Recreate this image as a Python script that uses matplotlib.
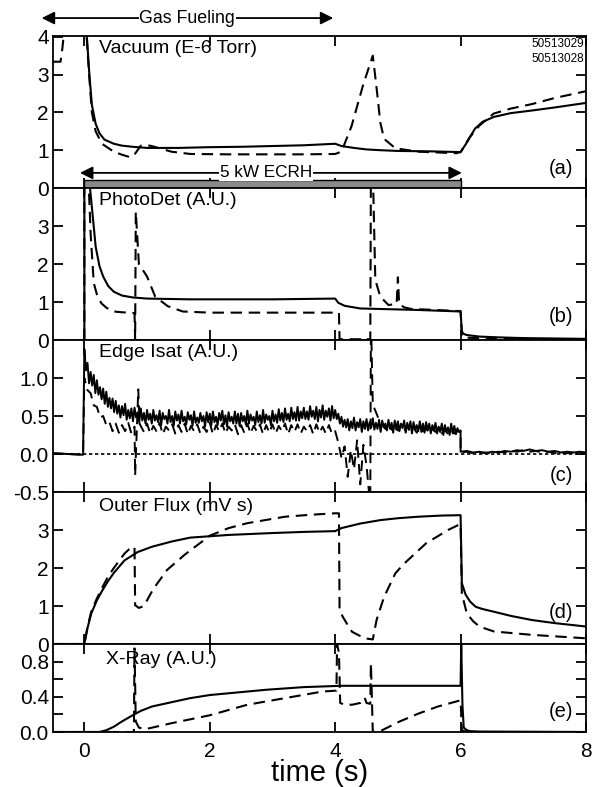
import numpy as np
import matplotlib
matplotlib.use("Agg")
import matplotlib.pyplot as plt
from matplotlib import font_manager

plt.rcParams['font.family'] = ['Liberation Sans', 'DejaVu Sans']
plt.rcParams['axes.linewidth'] = 1.3

_names = {f.name for f in font_manager.fontManager.ttflist}
NARROW = ['Liberation Sans Narrow', 'Liberation Sans'] if 'Liberation Sans Narrow' in _names else ['Liberation Sans']
NARROW_SIZE = 14 if 'Liberation Sans Narrow' in _names else 12.3

# ---------------- data ----------------
x_ticks = [0, 2, 4, 6, 8]
ecrh_on, ecrh_off = 0.0, 6.0
fuel_start, fuel_end = -0.68, 3.97
shots = ["50513029", "50513028"]

# (a) Vacuum
vac_t_solid = [0.0, 0.04, 0.08, 0.12, 0.18, 0.24, 0.32, 0.47, 0.6, 0.77, 1.0, 1.5, 2.0, 2.5, 3.0, 3.5,
               4.0, 4.1, 4.3, 4.5, 4.72, 5.0, 5.5, 6.0, 6.08, 6.15, 6.23, 6.35, 6.53, 6.8, 7.14, 7.5, 8.0]
vac_solid = [6.0, 4.0, 3.0, 2.2, 1.7, 1.45, 1.28, 1.17, 1.12, 1.09, 1.06, 1.06, 1.08, 1.09, 1.11, 1.13,
             1.17, 1.11, 1.06, 1.02, 1.0, 0.98, 0.97, 0.95, 1.15, 1.35, 1.57, 1.75, 1.88, 1.98, 2.05, 2.13, 2.25]
vac_t_dash = [-0.5, -0.38, -0.35, -0.3, 0.0, 0.04, 0.08, 0.12, 0.18, 0.28, 0.47, 0.6, 0.72, 0.78, 0.9, 1.05,
              1.2, 1.39, 1.69, 2.3, 3.0, 3.5, 4.0, 4.1, 4.26, 4.45, 4.6, 4.66, 4.72, 4.78, 4.96, 5.33, 5.93,
              6.0, 6.15, 6.3, 6.53, 6.8, 7.14, 7.5, 8.0]
vac_dash = [3.34, 3.34, 3.7, 4.5, 4.5, 3.9, 2.9, 2.0, 1.5, 1.17, 0.96, 0.88, 0.82, 0.84, 1.12, 1.12,
            1.05, 0.96, 0.9, 0.89, 0.89, 0.89, 0.9, 0.96, 1.63, 2.75, 3.5, 2.65, 1.73, 1.3, 1.05, 0.96, 0.92,
            0.95, 1.35, 1.65, 1.97, 2.1, 2.22, 2.38, 2.56]

# (b) PhotoDet
pd_t_solid = [0.0, 0.0, 0.06, 0.12, 0.18, 0.24, 0.3, 0.38, 0.47, 0.6, 0.77, 1.0, 1.69, 3.0, 4.0, 4.05,
              4.15, 4.4, 5.33, 6.0, 6.02, 6.05, 6.1, 6.3, 6.6, 7.0, 7.5, 8.0]
pd_solid = [0.0, 4.5, 4.5, 3.5, 2.46, 1.95, 1.67, 1.42, 1.27, 1.17, 1.12, 1.09, 1.07, 1.07, 1.09, 0.98,
            0.90, 0.83, 0.79, 0.75, 0.22, 0.16, 0.13, 0.09, 0.07, 0.05, 0.04, 0.03]
pd_t_dash = [0.0, 0.0, 0.06, 0.1, 0.15, 0.2, 0.27, 0.35, 0.47, 0.6, 0.79, 0.80, 0.81, 0.82, 0.87, 1.0,
             1.13, 1.33, 1.57, 2.0, 3.0, 4.0, 4.06, 4.07, 4.3, 4.42, 4.45, 4.48, 4.56, 4.57, 4.6, 4.64,
             4.72, 4.85, 4.98, 5.0, 5.02, 5.1, 5.2, 6.0, 6.02, 6.1, 6.4, 7.0, 8.0]
pd_dash = [0.0, 4.5, 4.5, 2.8, 1.5, 1.2, 0.97, 0.85, 0.75, 0.73, 0.71, 0.71, 0.0, 3.38, 2.0, 1.67,
           1.14, 0.89, 0.75, 0.72, 0.72, 0.72, 0.72, 0.02, 0.02, 0.02, 0.06, 0.02, 0.02, 4.5, 4.5, 1.58,
           1.14, 0.92, 0.95, 1.65, 0.95, 0.86, 0.82, 0.76, 0.10, 0.06, 0.04, 0.03, 0.02]

# (c) Edge Isat
isat_t_pre = [-0.5, -0.25, -0.02]
isat_pre = [0.01, 0.0, -0.01]
isat_t_solid_on = list(np.round(np.arange(0.0, 6.001, 0.025), 3))
isat_solid_on = [1.38, 1.10, 1.20, 0.93, 1.08, 0.90, 1.04, 0.80, 0.97, 0.78, 0.88, 0.72, 0.86, 0.66, 0.82, 0.62, 0.74, 0.60, 0.73, 0.55,
                 0.70, 0.53, 0.64, 0.48, 0.63, 0.51, 0.66, 0.45, 0.58, 0.47, 0.60, 0.43, 0.61, 0.48, 0.55, 0.42, 0.60, 0.44, 0.54, 0.40,
                 0.58, 0.45, 0.53, 0.40, 0.58, 0.44, 0.51, 0.42, 0.57, 0.38, 0.54, 0.46, 0.50, 0.40, 0.58, 0.42, 0.50, 0.37, 0.56, 0.44,
                 0.52, 0.40, 0.57, 0.43, 0.49, 0.39, 0.55, 0.45, 0.51, 0.37, 0.56, 0.41, 0.48, 0.41, 0.54, 0.43, 0.50, 0.36, 0.55, 0.42,
                 0.53, 0.38, 0.56, 0.42, 0.49, 0.38, 0.54, 0.44, 0.57, 0.39, 0.51, 0.36, 0.55, 0.43, 0.49, 0.40, 0.56, 0.40, 0.53, 0.37,
                 0.54, 0.43, 0.50, 0.39, 0.57, 0.40, 0.52, 0.44, 0.49, 0.38, 0.56, 0.42, 0.51, 0.40, 0.58, 0.41, 0.52, 0.45, 0.50, 0.38,
                 0.57, 0.43, 0.52, 0.41, 0.59, 0.44, 0.54, 0.42, 0.60, 0.45, 0.53, 0.43, 0.61, 0.46, 0.55, 0.44, 0.62, 0.44, 0.56, 0.47,
                 0.61, 0.46, 0.56, 0.45, 0.63, 0.49, 0.57, 0.46, 0.62, 0.43, 0.58, 0.48, 0.64, 0.45, 0.57, 0.49, 0.60, 0.44, 0.63, 0.47,
                 0.58, 0.46, 0.53, 0.40, 0.49, 0.36, 0.45, 0.35, 0.46, 0.31, 0.43, 0.34, 0.48, 0.31, 0.42, 0.35, 0.46, 0.29, 0.43, 0.33,
                 0.46, 0.31, 0.42, 0.35, 0.47, 0.32, 0.41, 0.33, 0.45, 0.29, 0.44, 0.35, 0.40, 0.31, 0.45, 0.33, 0.41, 0.28, 0.44, 0.32,
                 0.43, 0.30, 0.40, 0.34, 0.44, 0.28, 0.41, 0.32, 0.43, 0.27, 0.42, 0.31, 0.38, 0.30, 0.43, 0.29, 0.40, 0.28, 0.42, 0.31,
                 0.40, 0.27, 0.38, 0.31, 0.41, 0.27, 0.36, 0.29, 0.40, 0.25, 0.38, 0.29, 0.35, 0.25, 0.40, 0.27, 0.37, 0.26, 0.34, 0.29,
                 0.31]
isat_t_post = [6.0, 6.1, 6.2, 6.3, 6.4, 6.5, 6.6, 6.7, 6.8, 6.9, 7.0, 7.1, 7.2, 7.3, 7.4, 7.5, 7.6, 7.7, 7.8, 7.9, 8.0]
isat_solid_post = [0.03, 0.04, 0.02, 0.03, 0.01, 0.03, 0.02, 0.04, 0.03, 0.05, 0.04, 0.06, 0.04, 0.05, 0.03, 0.04, 0.02, 0.03, 0.02, 0.03, 0.02]
isat_dash_post = [0.02, 0.03, 0.01, 0.02, 0.02, 0.01, 0.03, 0.02, 0.04, 0.03, 0.05, 0.03, 0.04, 0.02, 0.03, 0.01, 0.02, 0.01, 0.02, 0.01, 0.01]
isat_t_dash = ([0.0, 0.05, 0.1, 0.15, 0.2, 0.25, 0.3, 0.35, 0.4, 0.45, 0.5, 0.55, 0.6, 0.65, 0.7, 0.75, 0.80, 0.81, 0.86, 0.88, 0.95]
               + list(np.round(np.arange(1.0, 4.001, 0.05), 2))
               + [4.05, 4.1, 4.15, 4.2, 4.25, 4.3, 4.35, 4.4, 4.45, 4.5, 4.55, 4.56, 4.57, 4.6]
               + list(np.round(np.arange(4.65, 6.001, 0.05), 2)))
isat_dash = ([1.00, 0.84, 0.80, 0.64, 0.62, 0.48, 0.50, 0.38, 0.42, 0.30, 0.40, 0.28, 0.38, 0.30, 0.41, 0.27, 0.36, -0.28, 0.85, 0.40, 0.29]
             + [0.40, 0.27, 0.37, 0.30, 0.41, 0.26, 0.36, 0.31, 0.39, 0.27, 0.38, 0.29, 0.40, 0.26, 0.37, 0.30, 0.39, 0.27, 0.36, 0.29,
                0.41, 0.26, 0.38, 0.30, 0.40, 0.27, 0.36, 0.31, 0.39, 0.26, 0.38, 0.28, 0.40, 0.27, 0.37, 0.30, 0.39, 0.26, 0.38, 0.28,
                0.39, 0.27, 0.37, 0.30, 0.40, 0.26, 0.38, 0.29, 0.39, 0.27, 0.36, 0.30, 0.38, 0.26, 0.39, 0.28, 0.36, 0.27, 0.38, 0.26,
                0.30]
             + [0.15, -0.05, 0.10, -0.30, 0.05, -0.20, 0.18, -0.40, 0.12, -0.15, -0.60, -0.60, 1.80, 0.65]
             + [0.55, 0.45, 0.40, 0.33, 0.42, 0.32, 0.40, 0.31, 0.38, 0.30, 0.37, 0.29, 0.36, 0.28, 0.35, 0.30, 0.34, 0.27, 0.33,
                0.29, 0.34, 0.27, 0.32, 0.26, 0.31, 0.27, 0.30, 0.30])

# (d) Outer Flux
flux_t_solid = [-0.5, 0.0, 0.05, 0.11, 0.2, 0.29, 0.38, 0.47, 0.64, 0.85, 1.08, 1.4, 1.69, 2.3, 3.0, 3.5, 4.0,
                4.1, 4.4, 4.72, 5.0, 5.33, 5.7, 6.0, 6.02, 6.08, 6.15, 6.24, 6.35, 6.53, 6.8, 7.14, 7.5, 8.0]
flux_solid = [0.0, 0.0, 0.42, 0.8, 1.15, 1.42, 1.66, 1.87, 2.2, 2.42, 2.56, 2.7, 2.8, 2.87, 2.92, 2.95, 2.97,
              3.05, 3.17, 3.26, 3.31, 3.35, 3.38, 3.39, 1.6, 1.3, 1.12, 0.98, 0.92, 0.85, 0.74, 0.63, 0.55, 0.46]
flux_t_dash = [-0.5, 0.0, 0.05, 0.11, 0.2, 0.29, 0.38, 0.47, 0.64, 0.75, 0.80, 0.81, 0.87, 0.95, 1.1, 1.32,
               1.6, 2.0, 2.3, 2.6, 3.2, 3.6, 4.0, 4.06, 4.07, 4.12, 4.2, 4.27, 4.47, 4.6, 4.66, 4.78, 4.96,
               5.09, 5.45, 5.8, 6.0, 6.02, 6.1, 6.2, 6.3, 6.53, 7.14, 8.0]
flux_dash = [0.0, 0.0, 0.45, 0.85, 1.2, 1.5, 1.78, 2.0, 2.38, 2.55, 2.55, 1.02, 0.95, 1.0, 1.45, 1.95,
             2.35, 2.85, 3.05, 3.18, 3.35, 3.4, 3.44, 3.44, 0.9, 0.72, 0.5, 0.32, 0.15, 0.12, 0.63, 1.24, 1.86,
             2.1, 2.65, 3.0, 3.16, 1.33, 0.8, 0.6, 0.46, 0.33, 0.24, 0.15]

# (e) X-Ray
xr_t_solid = [-0.5, 0.24, 0.35, 0.47, 0.6, 0.77, 0.9, 1.08, 1.4, 1.69, 2.0, 2.3, 2.9, 3.5, 4.1, 5.0, 6.0,
              6.01, 6.03, 6.05, 6.1, 6.15, 6.3, 8.0]
xr_solid = [0.0, 0.0, 0.02, 0.06, 0.12, 0.19, 0.24, 0.29, 0.34, 0.385, 0.42, 0.44, 0.48, 0.51, 0.525, 0.525, 0.525,
            1.0, 0.3, 0.05, 0.02, 0.01, 0.005, 0.0]
xr_t_dash = [-0.5, 0.79, 0.80, 0.82, 0.87, 0.96, 1.39, 2.0, 2.6, 3.2, 3.8, 4.02, 4.03, 4.06, 4.08, 4.15, 4.27,
             4.4, 4.47, 4.5, 4.56, 4.57, 4.6, 4.72, 5.03, 5.33, 5.64, 6.0, 6.02, 6.1, 8.0]
xr_dash = [0.0, 0.0, 0.95, 0.12, 0.05, 0.03, 0.1, 0.19, 0.31, 0.385, 0.46, 0.47, 1.0, 0.9, 0.33, 0.31, 0.31,
           0.33, 0.39, 0.33, 0.32, 0.78, 0.0, 0.01, 0.12, 0.21, 0.29, 0.36, 0.02, 0.0, 0.0]

panel_titles = ["Vacuum (E-6 Torr)", "PhotoDet (A.U.)", "Edge Isat (A.U.)", "Outer Flux (mV s)", "X-Ray (A.U.)"]
panel_tags = ["(a)", "(b)", "(c)", "(d)", "(e)"]
ylims = [(0, 4.02), (0, 4.0), (-0.5, 1.5), (0, 4.0), (0, 1.0)]
yticks = [[0, 1, 2, 3, 4], [0, 1, 2, 3], [-0.5, 0.0, 0.5, 1.0], [0, 1, 2, 3], [0.0, 0.4, 0.8]]
ytick_labels = [["0", "1", "2", "3", "4"], ["0", "1", "2", "3"], ["-0.5", "0.0", "0.5", "1.0"],
                ["0", "1", "2", "3"], ["0.0", "0.4", "0.8"]]
yminor = [[], [], [], [], [0.2, 0.6]]

# ---------------- layout ----------------
W, H = 596, 787
fig = plt.figure(figsize=(W / 100, H / 100), dpi=100)
left_px, right_px = 53, 586
bounds_px = [(36, 188), (188, 340), (340, 492), (492, 644), (644, 732)]
axes = []
for (top, bot) in bounds_px:
    ax = fig.add_axes([left_px / W, 1 - bot / H, (right_px - left_px) / W, (bot - top) / H])
    axes.append(ax)

DASH = (0, (5.5, 3.2))
LW = 1.5
title_x = [0.23, 0.23, 0.23, 0.23, 0.34]
title_y = [0.92, 0.92, 0.915, 0.905, 0.82]
tag_y = [0.13, 0.153, 0.11, 0.21, 0.23]

for i, ax in enumerate(axes):
    ax.set_xlim(-0.5, 8)
    ax.set_ylim(*ylims[i])
    ax.set_xticks(x_ticks)
    ax.set_yticks(yticks[i])
    ax.set_yticklabels(ytick_labels[i])
    if yminor[i]:
        ax.set_yticks(yminor[i], minor=True)
    ax.tick_params(which='both', direction='in', top=True, right=True, length=7.5, width=1.3,
                   labelsize=15, pad=3)
    ax.tick_params(axis='x', pad=7)
    if i < 4:
        ax.tick_params(axis='x', labelbottom=False)
    ax.text(title_x[i], title_y[i], panel_titles[i], transform=ax.get_xaxis_transform(),
            ha='left', va='center', fontsize=14)
    ax.text(0.976, tag_y[i], panel_tags[i], transform=ax.transAxes, ha='right', va='center', fontsize=14.5)

ax_a, ax_b, ax_c, ax_d, ax_e = axes

# (a)
ax_a.fill_between([ecrh_on, ecrh_off], 0, 0.2, facecolor='#8a8a8a', edgecolor='black', lw=1.0, zorder=3)
ax_a.plot(vac_t_solid, vac_solid, color='black', lw=LW)
ax_a.plot(vac_t_dash, vac_dash, color='black', lw=LW, linestyle=DASH)
ax_a.text(0.996, 0.947, shots[0], transform=ax_a.transAxes, ha='right', va='center', fontsize=8.5)
ax_a.text(0.996, 0.85, shots[1], transform=ax_a.transAxes, ha='right', va='center', fontsize=8.5)
ax_a.annotate('', xy=(ecrh_off + 0.02, 0.4), xytext=(ecrh_on - 0.07, 0.4),
              arrowprops=dict(arrowstyle='<|-|>', lw=1.3, color='black', mutation_scale=19,
                              shrinkA=0, shrinkB=0))
ax_a.text(2.9, 0.4, "5 kW ECRH", ha='center', va='center', fontsize=NARROW_SIZE, family=NARROW,
          bbox=dict(facecolor='white', edgecolor='none', pad=0.5))
ax_a.annotate('', xy=(fuel_end, 1.118), xytext=(fuel_start, 1.118),
              xycoords=ax_a.get_xaxis_transform(), textcoords=ax_a.get_xaxis_transform(),
              arrowprops=dict(arrowstyle='<|-|>', lw=1.3, color='black', mutation_scale=19,
                              shrinkA=0, shrinkB=0), annotation_clip=False)
ax_a.text(1.64, 1.118, "Gas Fueling", transform=ax_a.get_xaxis_transform(), ha='center', va='center',
          fontsize=NARROW_SIZE + 0.5, family=NARROW, bbox=dict(facecolor='white', edgecolor='none', pad=0.5),
          clip_on=False)

# (b)
ax_b.plot(pd_t_solid, pd_solid, color='black', lw=LW)
ax_b.plot(pd_t_dash, pd_dash, color='black', lw=LW, linestyle=DASH)

# (c)
ax_c.axhline(0, color='black', lw=1.2, linestyle=(0, (2.0, 1.6)))
ax_c.plot(isat_t_pre + isat_t_solid_on + isat_t_post, isat_pre + isat_solid_on + isat_solid_post,
          color='black', lw=1.4)
ax_c.plot(isat_t_pre + isat_t_dash + isat_t_post, isat_pre + isat_dash + isat_dash_post,
          color='black', lw=1.4, linestyle=DASH)

# (d)
ax_d.plot(flux_t_solid, flux_solid, color='black', lw=LW)
ax_d.plot(flux_t_dash, flux_dash, color='black', lw=LW, linestyle=DASH)

# (e)
ax_e.plot(xr_t_solid, xr_solid, color='black', lw=LW)
ax_e.plot(xr_t_dash, xr_dash, color='black', lw=LW, linestyle=DASH)
ax_e.set_xticklabels([str(v) for v in x_ticks])
ax_e.set_xlabel("time (s)", fontsize=21, labelpad=-1)

fig.savefig("out.png", dpi=100)
